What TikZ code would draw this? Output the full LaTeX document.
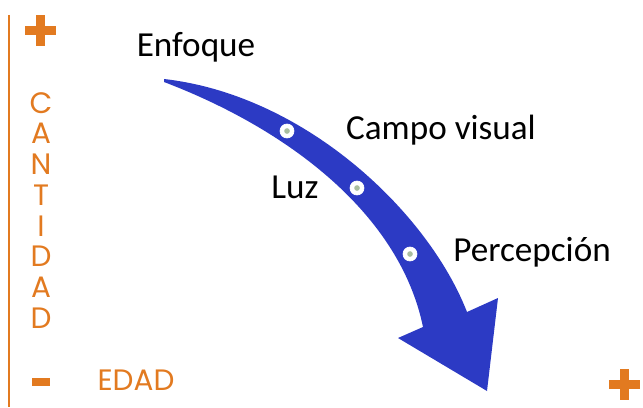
\documentclass[tikz,border=0pt]{standalone}
\usepackage{fontspec}
\setmainfont{Carlito}
\newfontfamily\axisfont{Poppins}
\usepackage{tikz}
\usetikzlibrary{positioning,calc}
\definecolor{edadorange}{RGB}{226,122,32}
\definecolor{flowblue}{RGB}{44,58,196}
\definecolor{dotgreen}{RGB}{170,190,160}

\tikzset{
  factor/.style={font=\fontsize{25}{30}\selectfont, text=black, inner sep=0pt},
  axislabel/.style={font=\axisfont\fontsize{21}{24}\selectfont, text=edadorange, inner sep=0pt},
  stop/.style={circle, fill=white, draw=white, minimum size=10pt, inner sep=0pt},
}

\begin{document}
\begin{tikzpicture}[x=0.025cm, y=-0.025cm]
\useasboundingbox (0,0) rectangle (643,407);

% Vertical axis line
\draw[edadorange, line width=1.4pt] (9,15) -- (9,407);

% Plus and minus marks
\fill[edadorange] (25,26) rectangle (56,35);
\fill[edadorange] (36,15) rectangle (45,46);
\fill[edadorange] (32,378) rectangle (50,386);
\fill[edadorange] (609,380) rectangle (640,389);
\fill[edadorange] (620,369) rectangle (629,400);

% Axis labels
\foreach \ch [count=\i from 0] in {C,A,N,T,I,D,A,D} {
    \node[axislabel] (cant\i) at (41,{103+\i*30.7}) {\ch};
}
\node[axislabel] (edad) at (136,380) {EDAD};

% Curved arrow
\fill[flowblue] (164,79) .. controls (305,95) and (428,212) .. (467,312)
    -- (498,298) -- (487,391) -- (398,338) -- (423,327)
    .. controls (400,215) and (290,130) .. (164,82) -- cycle;

% Stops on the arrow
\foreach \x/\y/\nm in {287/131/enfoquedot, 357/188/luzdot, 410/254/percdot} {
    \node[stop] (\nm) at (\x,\y) {};
    \fill[dotgreen] (\nm) circle (2pt);
}

% Labels
\node[factor] (enfoque) at (196,47) {Enfoque};
\node[factor] (campo) at (441,130) {Campo visual};
\node[factor] (luz) at (295,187) {Luz};
\node[factor] (percepcion) at (532,252) {Percepción};

\end{tikzpicture}
\end{document}
